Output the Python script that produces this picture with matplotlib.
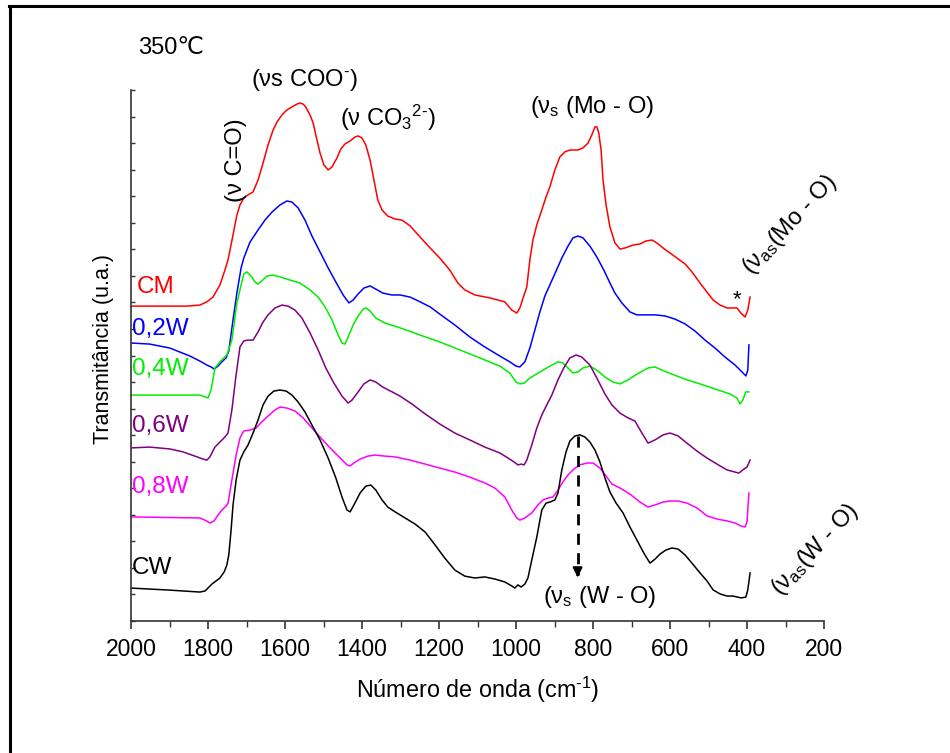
import matplotlib
matplotlib.use("Agg")
import matplotlib.pyplot as plt
from matplotlib.lines import Line2D
from matplotlib.ticker import MultipleLocator, NullFormatter

plt.rcParams['font.family'] = ['Liberation Sans', 'DejaVu Sans']
plt.rcParams['mathtext.fontset'] = 'custom'
plt.rcParams['mathtext.rm'] = 'Liberation Sans'
plt.rcParams['mathtext.it'] = 'Liberation Sans'
plt.rcParams['mathtext.default'] = 'rm'

# ---------------- data (wavenumber cm-1, transmittance a.u.) ----------------
wn_cm = [2000, 1855, 1821, 1803, 1787, 1769, 1756, 1748, 1735, 1725, 1717, 1707, 1696, 1683, 1670, 1657,
         1644, 1631, 1621, 1608, 1595, 1582, 1569, 1561, 1553, 1546, 1535, 1527, 1517, 1509, 1499, 1488,
         1478, 1465, 1455, 1444, 1431, 1418, 1410, 1400, 1390, 1379, 1369, 1359, 1348, 1333, 1314, 1296,
         1275, 1249, 1223, 1198, 1172, 1151, 1133, 1107, 1068, 1029, 1011, 998, 990, 979, 972, 964, 956,
         946, 933, 922, 912, 899, 886, 873, 860, 839, 826, 813, 803, 795, 790, 785, 779, 774, 766, 756,
         743, 730, 717, 696, 678, 663, 647, 634, 618, 600, 582, 561, 543, 522, 504, 488, 470, 452, 437,
         426, 416, 405, 398, 392]
t_cm = [11.86, 11.86, 11.90, 12.02, 12.20, 12.66, 13.22, 13.60, 14.54, 15.29, 15.67, 15.93, 16.05, 16.16, 16.61, 17.25,
        17.93, 18.49, 18.79, 19.06, 19.25, 19.36, 19.47, 19.51, 19.47, 19.36, 19.06, 18.76, 18.12, 17.63, 17.18, 16.99,
        17.10, 17.44, 17.78, 17.97, 18.08, 18.23, 18.27, 18.19, 17.93, 17.36, 16.61, 15.86, 15.48, 15.25, 15.14, 15.10,
        14.88, 14.46, 14.05, 13.67, 13.22, 12.73, 12.47, 12.28, 12.17, 12.02, 11.71, 11.60, 11.79, 12.28, 12.58, 13.60, 14.35,
        14.92, 15.48, 15.97, 16.35, 16.99, 17.48, 17.67, 17.74, 17.74, 17.82, 18.00, 18.31, 18.61, 18.61, 18.38, 17.74, 16.61, 15.67, 14.84,
        14.24, 14.01, 14.05, 14.16, 14.20, 14.31, 14.35, 14.24, 14.05, 13.86, 13.67, 13.45, 13.15, 12.73, 12.39, 12.09, 11.90, 11.79, 11.79,
        11.79, 11.60, 11.45, 11.71, 12.20]

wn_02 = [2000, 1951, 1899, 1847, 1821, 1803, 1792, 1784, 1774, 1764, 1753, 1746, 1735, 1725, 1714, 1707,
         1691, 1670, 1652, 1634, 1613, 1595, 1582, 1566, 1548, 1530, 1509, 1488, 1468, 1449, 1434, 1423,
         1410, 1395, 1379, 1364, 1346, 1322, 1301, 1275, 1249, 1223, 1198, 1159, 1120, 1081, 1042, 1016,
         1000, 990, 977, 964, 951, 938, 925, 912, 896, 881, 865, 852, 839, 826, 808, 790, 772, 756, 743,
         725, 704, 686, 665, 639, 613, 587, 561, 535, 509, 483, 457, 431, 413, 403, 398, 395]
t_02 = [10.47, 10.43, 10.28, 9.98, 9.79, 9.64, 9.57, 9.49, 9.60, 9.76, 9.91, 10.17, 11.34, 12.35, 13.30, 13.67,
        14.27, 14.73, 15.10, 15.40, 15.67, 15.82, 15.78, 15.56, 15.10, 14.50, 13.90, 13.30, 12.77, 12.28, 11.98, 12.09,
        12.32, 12.54, 12.62, 12.50, 12.35, 12.28, 12.28, 12.20, 12.02, 11.83, 11.56, 11.15, 10.70, 10.32, 9.98, 9.76,
        9.60, 9.57, 9.76, 10.28, 10.96, 11.64, 12.24, 12.66, 13.18, 13.67, 14.12, 14.43, 14.50, 14.43, 14.12, 13.71, 13.22, 12.73, 12.35,
        11.98, 11.64, 11.53, 11.53, 11.53, 11.49, 11.37, 11.19, 10.92, 10.58, 10.28, 9.94, 9.64, 9.38, 9.23, 9.45, 10.40]

wn_04 = [2000, 1821, 1808, 1800, 1792, 1782, 1769, 1751, 1738, 1725, 1714, 1707, 1699, 1688, 1678, 1670,
         1660, 1647, 1631, 1613, 1587, 1561, 1535, 1514, 1496, 1478, 1462, 1452, 1444, 1434, 1423, 1410,
         1397, 1390, 1379, 1364, 1340, 1301, 1249, 1198, 1146, 1094, 1042, 1016, 1000, 990, 979, 964, 938,
         912, 891, 878, 865, 852, 839, 826, 808, 790, 769, 748, 730, 709, 686, 657, 639, 621, 595, 561,
         522, 483, 444, 426, 418, 411, 403, 395]
t_04 = [8.51, 8.51, 8.44, 8.40, 8.70, 9.53, 9.76, 10.02, 10.58, 11.98, 12.66, 13.07, 13.15, 12.99, 12.77, 12.69,
        12.81, 12.99, 13.03, 12.96, 12.84, 12.73, 12.47, 12.20, 11.83, 11.34, 10.77, 10.47, 10.43, 10.77, 11.15, 11.49,
        11.75, 11.79, 11.68, 11.41, 11.22, 11.04, 10.77, 10.51, 10.21, 9.91, 9.60, 9.34, 9.00, 8.93, 8.96, 9.15, 9.38,
        9.60, 9.76, 9.72, 9.53, 9.34, 9.38, 9.53, 9.60, 9.45, 9.19, 9.00, 8.93, 9.08, 9.30, 9.53, 9.57, 9.45, 9.30, 9.11,
        8.93, 8.74, 8.55, 8.40, 8.17, 8.32, 8.63, 8.63]

wn_06 = [2000, 1951, 1899, 1865, 1834, 1813, 1803, 1795, 1782, 1769, 1756, 1748, 1738, 1727, 1717, 1707,
         1696, 1683, 1670, 1657, 1644, 1626, 1608, 1592, 1574, 1556, 1535, 1514, 1494, 1473, 1452, 1436,
         1426, 1410, 1395, 1379, 1364, 1346, 1322, 1301, 1270, 1236, 1198, 1159, 1120, 1081, 1042, 1021,
         1005, 995, 987, 979, 972, 959, 946, 933, 920, 907, 891, 876, 860, 844, 829, 808, 790, 769, 751,
         730, 709, 691, 673, 657, 639, 618, 600, 579, 556, 530, 504, 478, 452, 431, 421, 411, 400, 392]
t_06 = [6.52, 6.55, 6.48, 6.37, 6.21, 6.10, 6.06, 6.18, 6.55, 6.74, 6.93, 7.08, 7.95, 9.27, 10.32, 10.55,
        10.58, 10.58, 10.89, 11.26, 11.53, 11.79, 11.90, 11.86, 11.71, 11.41, 10.85, 10.21, 9.53, 8.96, 8.47, 8.21,
        8.32, 8.63, 8.93, 9.08, 9.00, 8.81, 8.63, 8.47, 8.17, 7.80, 7.42, 7.08, 6.82, 6.55, 6.33, 6.14,
        5.99, 5.88, 5.91, 5.88, 6.06, 6.63, 7.27, 7.76, 8.14, 8.51, 9.08, 9.53, 9.91, 10.02, 9.94, 9.64, 9.15, 8.55, 8.14,
        7.83, 7.65, 7.53, 7.08, 6.70, 6.82, 7.01, 7.08, 6.97, 6.70, 6.40, 6.14, 5.91, 5.69, 5.61, 5.57, 5.69, 5.80, 6.06]

wn_08 = [2000, 1821, 1808, 1795, 1784, 1774, 1764, 1753, 1748, 1738, 1727, 1717, 1707, 1691, 1675, 1660,
         1644, 1626, 1613, 1595, 1574, 1553, 1530, 1509, 1483, 1457, 1439, 1431, 1421, 1405, 1385, 1366,
         1340, 1314, 1275, 1236, 1198, 1159, 1120, 1081, 1055, 1029, 1011, 998, 990, 977, 959, 943, 930,
         917, 904, 891, 878, 865, 850, 834, 816, 800, 782, 766, 751, 730, 704, 678, 657, 639, 618, 600,
         579, 556, 530, 504, 478, 452, 431, 416, 405, 400, 398, 395]
t_08 = [3.92, 3.88, 3.80, 3.69, 3.77, 3.99, 4.18, 4.33, 4.44, 5.31, 6.25, 6.89, 7.16, 7.19, 7.27, 7.50,
        7.72, 7.95, 8.06, 8.02, 7.91, 7.65, 7.27, 6.93, 6.52, 6.14, 5.88, 5.84, 5.95, 6.10, 6.21, 6.25,
        6.21, 6.18, 6.06, 5.91, 5.76, 5.61, 5.42, 5.20, 5.01, 4.67, 4.18, 3.88, 3.80, 3.88, 4.07, 4.37, 4.56,
        4.63, 4.67, 4.93, 5.24, 5.50, 5.72, 5.88, 5.95, 5.95, 5.76, 5.46, 5.16, 5.01, 4.78, 4.48, 4.29, 4.37, 4.48, 4.52,
        4.52, 4.44, 4.26, 3.96, 3.84, 3.77, 3.69, 3.58, 3.54, 3.73, 4.18, 4.82]

wn_cw = [2000, 1907, 1821, 1808, 1800, 1790, 1779, 1769, 1758, 1751, 1746, 1740, 1735, 1727, 1717, 1707,
         1696, 1683, 1670, 1657, 1644, 1629, 1613, 1597, 1582, 1566, 1548, 1530, 1509, 1488, 1468, 1452,
         1439, 1431, 1421, 1405, 1390, 1377, 1364, 1348, 1333, 1314, 1288, 1262, 1236, 1210, 1185, 1159,
         1133, 1107, 1081, 1055, 1029, 1011, 1003, 995, 987, 977, 969, 959, 946, 933, 922, 912, 899, 891,
         881, 870, 860, 847, 834, 821, 808, 795, 782, 769, 756, 740, 722, 704, 686, 668, 652, 639, 626,
         611, 595, 579, 561, 543, 522, 504, 488, 470, 452, 437, 424, 416, 403, 398, 392]
t_cw = [1.24, 1.17, 1.09, 1.13, 1.24, 1.39, 1.51, 1.62, 1.85, 2.11, 2.49, 3.43, 4.37, 5.31, 6.06, 6.37,
        6.63, 7.08, 7.57, 8.14, 8.47, 8.66, 8.70, 8.66, 8.51, 8.25, 7.87, 7.38, 6.82, 6.14, 5.39, 4.67,
        4.18, 4.11, 4.37, 4.82, 5.08, 5.12, 4.93, 4.56, 4.29, 4.11, 3.88, 3.65, 3.35, 2.86, 2.37, 1.92,
        1.69, 1.62, 1.66, 1.58, 1.47, 1.32, 1.24, 1.36, 1.28, 1.39, 1.62, 2.30, 3.16, 4.18, 4.44, 4.48, 4.56, 4.82,
        5.69, 6.37, 6.78, 6.97, 7.01, 6.93, 6.74, 6.44, 5.99, 5.39, 4.86, 4.44, 4.07, 3.54, 3.05, 2.56, 2.18, 2.33, 2.52,
        2.67, 2.75, 2.71, 2.49, 2.18, 1.81, 1.51, 1.17, 1.02, 0.94, 0.94, 0.90, 0.87, 0.90, 1.17, 1.81]

series_labels = ['CM', '0,2W', '0,4W', '0,6W', '0,8W', 'CW']
series_colors = ['#ff0000', '#0000ff', '#00ee00', '#800080', '#ff00ff', '#000000']
series_x = [wn_cm, wn_02, wn_04, wn_06, wn_08, wn_cw]
series_y = [t_cm, t_02, t_04, t_06, t_08, t_cw]

x_ticks = [2000, 1800, 1600, 1400, 1200, 1000, 800, 600, 400, 200]

# ---------------- figure ----------------
W, H = 950, 753
fig = plt.figure(figsize=(W / 100, H / 100), dpi=100)
ax = fig.add_axes([131 / W, 1 - 621 / H, (824 - 131) / W, (621 - 90) / H])

for xs, ys, c in zip(series_x, series_y, series_colors):
    ax.plot(xs, ys, color=c, lw=1.1, solid_joinstyle='round')

ax.set_xlim(2000, 200)
ax.set_ylim(0, 20)
for s in ['top', 'right']:
    ax.spines[s].set_visible(False)
for s in ['left', 'bottom']:
    ax.spines[s].set_linewidth(1.2)
    ax.spines[s].set_color('#333333')

ax.set_xticks(x_ticks)
ax.set_xticklabels([str(t) for t in x_ticks])
ax.xaxis.set_minor_locator(MultipleLocator(100))
ax.tick_params(axis='x', which='major', direction='out', length=6, width=1.2, labelsize=16.5, pad=6, color='#333333')
ax.tick_params(axis='x', which='minor', direction='out', length=4, width=1.0, color='#333333')
ax.yaxis.set_major_locator(MultipleLocator(1))
ax.yaxis.set_major_formatter(NullFormatter())
ax.tick_params(axis='y', which='major', direction='in', length=3, width=1.0, color='#333333')

def P(x, y):
    return (x / W, 1 - y / H)

fig.text(*P(478, 690), 'Número de onda (cm$^{\\text{-1}}$)', fontsize=16.8, ha='center', va='center')
fig.text(*P(103, 349), 'Transmitância (u.a.)', rotation=90, fontsize=15.5, ha='center', va='center')

# curve labels
label_pos = [(137, 287), (132, 329), (132, 369), (132, 426), (132, 487), (132, 568)]
for (lx, ly), lab, c in zip(label_pos, series_labels, series_colors):
    fig.text(*P(lx, ly), lab, color=c, fontsize=17.5, ha='left', va='center')

# annotations
fs = 17
fig.text(*P(138, 48), '350℃', fontsize=fs, ha='left', va='center')
fig.text(*P(304, 80), '(νs COO$^{\\text{-}}$)', fontsize=fs, ha='center', va='center')
fig.text(*P(236, 160), '(ν C=O)', fontsize=fs, ha='center', va='center', rotation=90)
fig.text(*P(388, 118), '(ν CO$_{3}$$^{\\text{2-}}$)', fontsize=fs, ha='center', va='center')
fig.text(*P(592, 107), '(ν$_{s}$ (Mo - O)', fontsize=fs, ha='center', va='center')
fig.text(*P(790, 225), '(ν$_{as}$(Mo - O)', fontsize=fs, ha='center', va='center', rotation=47)
fig.text(*P(737, 300), '*', fontsize=16, ha='center', va='center')
fig.text(*P(600, 597), '(ν$_{s}$ (W - O)', fontsize=fs, ha='center', va='center')
fig.text(*P(815, 550), '(ν$_{as}$(W - O)', fontsize=fs, ha='center', va='center', rotation=47)

# dashed arrow
ax.plot([840, 840], [6.97, 1.75], color='black', lw=2, ls=(0, (4, 3)))
ax.annotate('', xy=(840, 1.54), xytext=(840, 1.9),
            arrowprops=dict(arrowstyle='-|>', color='black', lw=1.5, mutation_scale=14))

# outer frame lines (top and left)
fig.add_artist(Line2D([9 / W, 1.0], [1 - 6 / H, 1 - 6 / H], color='black', lw=2.2, transform=fig.transFigure))
fig.add_artist(Line2D([10 / W, 10 / W], [1 - 6 / H, 0.0], color='black', lw=2.2, transform=fig.transFigure))

fig.savefig('out.png', dpi=100)
